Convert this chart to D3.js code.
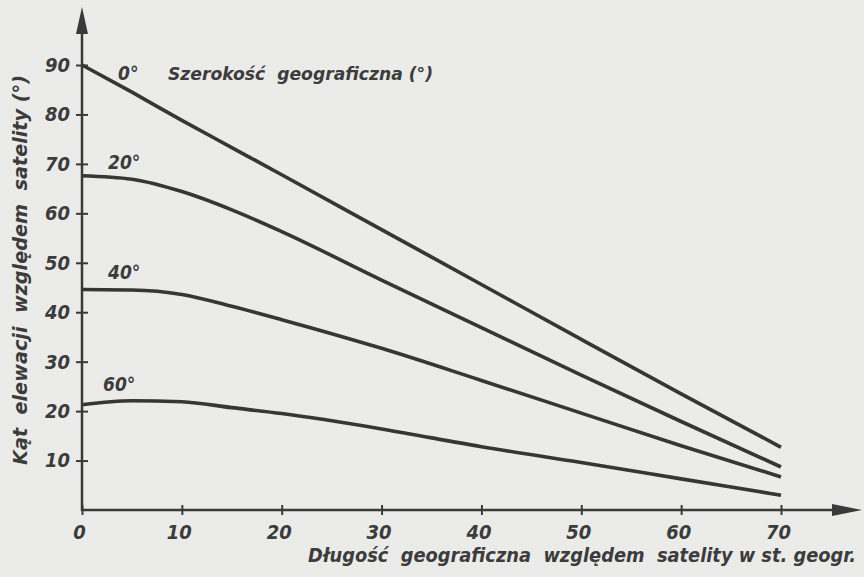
<!DOCTYPE html>
<html>
<head>
<meta charset="utf-8">
<script src="https://cdn.jsdelivr.net/npm/d3@7"></script>
<style>
  html, body { margin: 0; padding: 0; background: #ebebe9; }
  svg { display: block; }
  text { font-family: "DejaVu Sans Condensed", "DejaVu Sans", sans-serif; font-style: italic; font-weight: bold; fill: #3c3c3c; white-space: pre; }
</style>
</head>
<body>
<svg width="864" height="577"></svg>
<script>
// longitude relative to the satellite (deg)
var longitudes = [0, 5, 10, 15, 20, 30, 40, 50, 60, 70];
// elevation angle (deg) per latitude
var lat0  = [90, 84.5, 78.8, 73.3, 67.8, 56.7, 45.6, 34.5, 23.5, 12.7];
var lat20 = [67.6, 66.9, 64.4, 60.7, 56.3, 46.5, 36.9, 27.3, 17.9, 8.7];
var lat40 = [44.6, 44.5, 43.6, 41.2, 38.5, 32.7, 26.2, 19.6, 13.0, 6.7];
var lat60 = [21.3, 22.1, 21.9, 20.7, 19.5, 16.4, 12.8, 9.6, 6.3, 3.0];
var seriesNames = ["0°", "20°", "40°", "60°"];
var xTicks = [0, 10, 20, 30, 40, 50, 60, 70];
var yTicks = [10, 20, 30, 40, 50, 60, 70, 80, 90];

var series = [lat0, lat20, lat40, lat60];

var svg = d3.select("svg");
var ink = "#3a3a3a";

var x = d3.scaleLinear().domain([0, 70]).range([82, 781]);
var y = d3.scaleLinear().domain([0, 90]).range([510, 65]);

// x axis
var gx = svg.append("g")
    .attr("transform", "translate(0," + y(0) + ")")
    .call(d3.axisBottom(x).tickValues(xTicks).tickSize(5).tickPadding(7).tickFormat(d3.format("d")));
gx.select(".domain").remove();
gx.selectAll(".tick line").attr("y1", -5).attr("y2", 5).attr("stroke", ink).attr("stroke-width", 2);
gx.selectAll(".tick text").attr("font-size", 20).attr("dy", "0.85em").attr("dx", -3);

// y axis
var gy = svg.append("g")
    .attr("transform", "translate(" + x(0) + ",0)")
    .call(d3.axisLeft(y).tickValues(yTicks).tickSize(6).tickPadding(5).tickFormat(d3.format("d")));
gy.select(".domain").remove();
gy.selectAll(".tick line").attr("x1", -6).attr("x2", 6).attr("stroke", ink).attr("stroke-width", 2);
gy.selectAll(".tick text").attr("font-size", 20).attr("dx", -1);

svg.selectAll(".tick text").attr("fill", "#3c3c3c").attr("font-family", null);

// axis lines with arrows
svg.append("line")
    .attr("x1", x(0) - 1).attr("y1", y(0))
    .attr("x2", 840).attr("y2", y(0))
    .attr("stroke", ink).attr("stroke-width", 2.5);
svg.append("path")
    .attr("d", "M862," + y(0) + " L832," + (y(0) - 6) + " L832," + (y(0) + 6) + " Z")
    .attr("fill", ink);
svg.append("line")
    .attr("x1", x(0)).attr("y1", y(0) + 1)
    .attr("x2", x(0)).attr("y2", 28)
    .attr("stroke", ink).attr("stroke-width", 2.5);
svg.append("path")
    .attr("d", "M" + x(0) + ",7 L" + (x(0) - 6) + ",34 L" + (x(0) + 6) + ",34 Z")
    .attr("fill", ink);

// curves
var line = d3.line()
    .x(function(d, i) { return x(longitudes[i]); })
    .y(function(d) { return y(d); })
    .curve(d3.curveMonotoneX);

svg.append("g").selectAll("path")
    .data(series)
  .enter().append("path")
    .attr("d", line)
    .attr("fill", "none")
    .attr("stroke", "#363636")
    .attr("stroke-width", 3.6);

// latitude labels next to curve starts
var labelShift = [[36, 15], [26, -7], [26, -10], [21, -14]];
svg.append("g").selectAll("text")
    .data(series)
  .enter().append("text")
    .attr("x", function(d, i) { return x(0) + labelShift[i][0]; })
    .attr("y", function(d, i) { return y(d[0]) + labelShift[i][1]; })
    .attr("font-size", 19)
    .text(function(d, i) { return seriesNames[i]; });

// legend header
svg.append("text")
    .attr("x", 168).attr("y", 80)
    .attr("font-size", 18)
    .attr("textLength", 265).attr("lengthAdjust", "spacingAndGlyphs")
    .text("Szerokość  geograficzna (°)");

// axis titles
svg.append("text")
    .attr("transform", "translate(27,270) rotate(-90)")
    .attr("text-anchor", "middle")
    .attr("font-size", 19)
    .attr("textLength", 390).attr("lengthAdjust", "spacingAndGlyphs")
    .text("Kąt  elewacji  względem  satelity (°)");

svg.append("text")
    .attr("x", 308).attr("y", 562)
    .attr("font-size", 19)
    .attr("textLength", 548).attr("lengthAdjust", "spacingAndGlyphs")
    .text("Długość  geograficzna  względem  satelity w st. geogr.");
</script>
</body>
</html>
